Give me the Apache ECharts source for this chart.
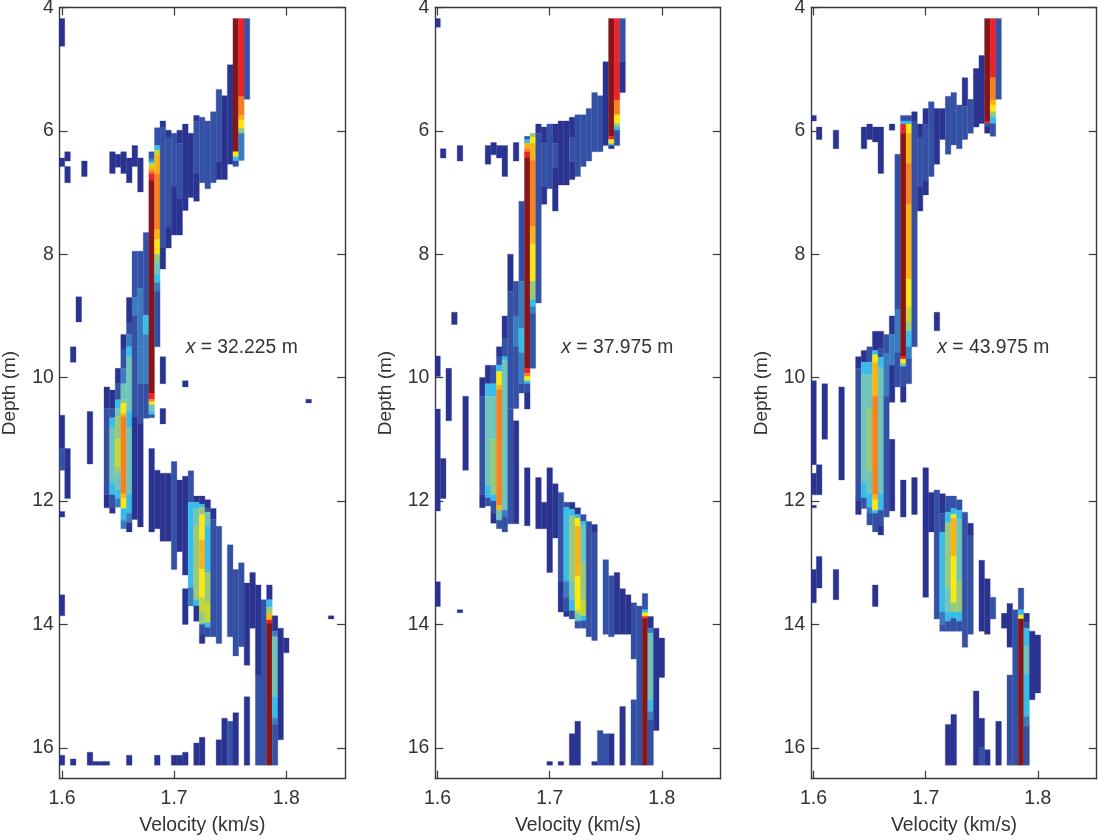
<!DOCTYPE html>
<html><head><meta charset="utf-8">
<style>html,body{margin:0;padding:0;background:#fff}#c{width:1098px;height:840px}</style>
<script src="https://cdn.jsdelivr.net/npm/echarts@6/dist/echarts.min.js"></script>
</head><body><div id="c"></div>
<script>
const xTicks = [1.6, 1.7, 1.8];
const xTickLabels = ['1.6', '1.7', '1.8'];
const depthTicks = [4, 6, 8, 10, 12, 14, 16];
const panelLabels = ['32.225', '37.975', '43.975'];
const levelColors = ['#2b3391','#3451a5','#3a7cbf','#39bcea','#6fc5b9','#98ca7a','#c3d835','#fbe812','#fbb316','#f58120','#ec2227','#85161a'];
const binWidth = 0.005;

// [velocity, depth top, depth bottom, colour level]
const cellsA = [
[1.6,4.18,4.63,0],[1.6,6.44,6.58,0],[1.6,10.61,11.15,0],[1.6,11.15,11.5,1],[1.6,12.17,12.26,0],[1.6,13.52,13.86,0],[1.6,16.12,16.28,0],
[1.605,6.34,6.49,0],[1.605,6.58,6.84,0],[1.605,11.15,11.96,0],
[1.61,9.5,9.75,0],[1.61,16.18,16.28,0],[1.615,8.69,9.1,0],[1.62,6.49,6.74,0],
[1.625,10.55,11.4,0],[1.625,16.07,16.28,0],[1.63,16.22,16.28,0],[1.635,16.22,16.28,0],[1.64,16.22,16.28,0],
[1.64,10.15,10.5,0],[1.64,10.5,11.9,1],[1.64,11.9,12.11,0],
[1.645,6.34,6.69,0],[1.645,10.2,10.5,0],[1.645,10.5,10.65,1],[1.645,10.65,10.8,3],[1.645,10.8,11.7,4],[1.645,11.7,11.9,3],[1.645,11.9,12.11,1],[1.645,12.11,12.2,0],
[1.65,6.38,6.59,0],[1.65,9.85,10.1,0],[1.65,10.1,10.36,1],[1.65,10.36,10.5,3],[1.65,10.5,10.63,4],[1.65,10.63,11.0,5],[1.65,11.0,11.45,6],[1.65,11.45,11.55,5],[1.65,11.55,11.82,4],[1.65,11.82,11.96,3],[1.65,11.96,12.1,2],
[1.655,6.34,6.69,0],[1.655,9.3,9.55,0],[1.655,9.55,9.85,1],[1.655,9.85,10.1,2],[1.655,10.1,10.36,4],[1.655,10.36,10.42,5],[1.655,10.42,10.58,7],[1.655,10.58,10.63,8],[1.655,10.63,11.88,9],[1.655,11.88,11.96,8],[1.655,11.96,12.12,7],[1.655,12.12,12.31,3],[1.655,12.31,12.45,2],
[1.66,6.44,6.84,0],[1.66,8.7,9.1,0],[1.66,9.1,9.3,1],[1.66,9.3,9.5,2],[1.66,9.5,9.66,3],[1.66,9.66,10.55,4],[1.66,10.55,10.8,3],[1.66,10.8,11.88,4],[1.66,11.88,12.2,3],[1.66,12.2,12.35,2],[1.66,12.35,12.5,0],[1.66,16.12,16.28,0],
[1.665,6.24,6.58,0],[1.665,7.95,8.7,1],[1.665,8.7,9.0,2],[1.665,9.0,10.63,1],[1.665,10.63,12.3,0],
[1.67,6.44,6.99,0],[1.67,7.95,8.55,1],[1.67,8.55,8.9,2],[1.67,8.9,9.5,2],[1.67,9.5,10.1,2],[1.67,10.1,10.74,1],[1.67,10.74,12.42,0],
[1.675,7.65,8.99,1],[1.675,8.99,9.3,3],[1.675,9.3,10.1,2],[1.675,10.1,10.66,1],
[1.68,6.34,6.44,1],[1.68,6.44,6.49,2],[1.68,6.49,6.53,3],[1.68,6.53,6.58,6],[1.68,6.58,6.64,8],[1.68,6.64,6.69,9],[1.68,6.69,6.8,10],[1.68,6.8,10.25,11],[1.68,10.25,10.35,10],[1.68,10.35,10.39,9],[1.68,10.39,10.44,7],[1.68,10.44,10.55,4],[1.68,10.55,10.6,3],[1.68,10.6,10.65,1],[1.68,11.15,12.5,0],
[1.685,5.95,6.24,1],[1.685,6.24,6.31,3],[1.685,6.31,6.39,6],[1.685,6.39,6.69,8],[1.685,6.69,7.6,9],[1.685,7.6,7.76,8],[1.685,7.76,8.0,7],[1.685,8.0,8.13,5],[1.685,8.13,8.33,4],[1.685,8.33,8.46,3],[1.685,8.46,8.6,2],[1.685,8.6,9.5,1],[1.685,11.5,12.45,0],[1.685,16.12,16.28,0],
[1.69,5.84,5.95,0],[1.69,5.95,7.9,1],[1.69,7.9,8.24,0],[1.69,9.66,10.1,0],[1.69,10.5,10.75,0],[1.69,11.55,12.65,0],
[1.695,5.99,6.1,0],[1.695,6.1,7.55,1],[1.695,7.55,7.9,0],[1.695,11.55,12.65,0],
[1.7,6.04,6.9,1],[1.7,6.9,7.69,0],[1.7,11.36,13.11,1],[1.7,16.12,16.28,0],
[1.705,5.99,6.2,0],[1.705,6.2,7.1,1],[1.705,7.1,7.69,0],[1.705,11.66,12.82,0],[1.705,16.12,16.28,0],
[1.71,5.89,7.29,0],[1.71,10.05,10.15,0],[1.71,11.6,13.2,0],[1.71,13.42,14.0,0],[1.71,16.07,16.28,0],
[1.715,6.04,7.08,0],[1.715,11.51,12.02,1],[1.715,12.02,12.35,3],[1.715,12.35,13.4,3],[1.715,13.4,13.7,2],
[1.72,5.75,5.85,0],[1.72,5.85,6.7,1],[1.72,6.7,7.14,0],[1.72,11.92,12.02,0],[1.72,12.02,12.12,3],[1.72,12.12,12.4,4],[1.72,12.4,13.45,5],[1.72,13.45,13.6,5],[1.72,13.6,13.7,3],[1.72,13.7,13.95,0],[1.72,15.92,16.28,0],
[1.725,5.78,6.84,1],[1.725,11.92,12.05,0],[1.725,12.05,12.1,3],[1.725,12.1,12.22,5],[1.725,12.22,12.41,7],[1.725,12.41,12.63,7],[1.725,12.63,12.85,8],[1.725,12.85,13.11,8],[1.725,13.11,13.56,7],[1.725,13.56,13.8,6],[1.725,13.8,13.97,5],[1.725,13.97,14.0,4],[1.725,14.0,14.17,1],[1.725,14.17,14.31,0],[1.725,15.83,16.28,0],
[1.73,5.84,6.94,1],[1.73,11.98,12.12,0],[1.73,12.12,12.18,1],[1.73,12.18,12.41,4],[1.73,12.41,13.15,3],[1.73,13.15,13.65,5],[1.73,13.65,13.97,6],[1.73,13.97,14.05,3],[1.73,14.05,14.2,1],
[1.735,5.69,6.84,1],[1.735,12.12,12.3,0],[1.735,12.3,14.2,1],
[1.74,5.33,6.5,1],[1.74,6.5,6.79,0],[1.74,12.41,14.31,1],[1.74,15.87,16.28,0],
[1.745,5.43,6.79,0],[1.745,15.52,16.28,0],
[1.75,4.93,6.54,0],[1.75,12.71,14.2,1],[1.75,15.57,16.28,1],
[1.755,4.18,6.34,11],[1.755,6.34,6.42,7],[1.755,6.42,6.49,3],[1.755,6.49,6.58,1],[1.755,13.11,14.51,1],[1.755,15.43,16.28,0],
[1.76,4.18,5.45,10],[1.76,5.45,5.75,9],[1.76,5.75,5.83,8],[1.76,5.83,5.96,7],[1.76,5.96,6.04,5],[1.76,6.04,6.48,2],[1.76,13.0,14.36,1],
[1.765,4.18,5.49,1],[1.765,13.33,14.66,0],[1.765,15.17,16.28,0],
[1.77,13.16,14.06,0],[1.775,13.36,14.82,0],[1.775,14.82,16.28,1],
[1.78,13.6,16.28,1],
[1.785,13.36,13.6,0],[1.785,13.6,13.72,3],[1.785,13.72,13.82,5],[1.785,13.82,13.93,8],[1.785,13.93,13.98,10],[1.785,13.98,16.28,11],
[1.79,13.86,14.11,0],[1.79,14.11,14.2,2],[1.79,14.2,15.17,4],[1.79,15.17,15.52,3],[1.79,15.52,15.63,2],[1.79,15.63,16.28,1],
[1.795,14.06,15.87,0],[1.8,14.22,14.46,0],[1.82,10.35,10.41,0],[1.84,13.86,13.91,0]
];

const cellsB = [
[1.6,4.18,4.32,0],[1.6,9.65,9.98,0],[1.6,10.51,12.16,0],[1.6,13.31,13.71,0],
[1.605,6.29,6.44,0],[1.605,11.31,11.96,0],[1.61,9.85,10.7,0],[1.615,8.94,9.14,0],[1.62,6.24,6.49,0],[1.62,13.76,13.81,0],
[1.625,10.3,11.5,0],
[1.64,10.0,10.3,0],[1.64,10.3,11.9,1],[1.64,11.9,12.11,0],
[1.645,6.24,6.54,0],[1.645,9.8,10.1,0],[1.645,10.1,10.3,3],[1.645,10.3,11.75,4],[1.645,11.75,11.95,3],[1.645,11.95,12.08,1],
[1.65,6.19,6.39,0],[1.65,9.8,10.1,1],[1.65,10.1,10.3,3],[1.65,10.3,11.0,4],[1.65,11.0,11.9,5],[1.65,11.9,12.0,3],[1.65,12.0,12.2,1],[1.65,12.2,12.36,0],
[1.655,6.24,6.44,0],[1.655,9.5,9.65,0],[1.655,9.65,9.8,1],[1.655,9.8,9.9,3],[1.655,9.9,10.12,7],[1.655,10.12,10.2,8],[1.655,10.2,12.07,9],[1.655,12.07,12.15,8],[1.655,12.15,12.31,4],[1.655,12.31,12.45,1],
[1.66,6.24,6.74,0],[1.66,9.0,9.37,0],[1.66,9.37,9.66,1],[1.66,9.66,9.72,3],[1.66,9.72,12.15,4],[1.66,12.15,12.26,2],[1.66,12.26,12.5,1],
[1.665,8.0,8.6,0],[1.665,8.6,9.0,1],[1.665,9.0,10.5,1],[1.665,10.5,12.37,1],
[1.67,6.19,6.49,0],[1.67,8.44,9.0,1],[1.67,9.0,9.5,2],[1.67,9.5,10.5,1],[1.67,10.7,12.37,0],
[1.675,7.14,8.44,1],[1.675,8.44,9.2,2],[1.675,9.2,9.6,3],[1.675,9.6,10.1,2],[1.675,10.1,10.25,1],
[1.68,6.09,6.14,1],[1.68,6.14,6.2,3],[1.68,6.2,6.29,8],[1.68,6.29,6.34,9],[1.68,6.34,6.44,10],[1.68,6.44,9.85,11],[1.68,9.85,9.93,10],[1.68,9.93,9.98,9],[1.68,9.98,10.05,7],[1.68,10.05,10.1,3],[1.68,10.1,10.25,1],[1.68,10.25,10.51,0],[1.68,11.46,12.4,0],
[1.685,6.04,6.1,5],[1.685,6.1,6.2,7],[1.685,6.2,6.48,8],[1.685,6.48,7.55,9],[1.685,7.55,7.84,8],[1.685,7.84,8.44,7],[1.685,8.44,8.74,5],[1.685,8.74,8.85,3],[1.685,8.85,8.96,2],[1.685,8.96,9.85,1],
[1.69,5.89,6.04,0],[1.69,6.04,8.79,1],[1.69,11.62,12.45,0],
[1.695,5.94,6.2,0],[1.695,6.2,6.9,1],[1.695,6.9,7.19,0],[1.695,12.02,12.45,0],
[1.7,5.89,6.94,1],[1.7,11.46,13.16,0],[1.7,16.22,16.28,0],
[1.705,5.89,6.2,0],[1.705,6.2,6.6,1],[1.705,6.6,7.3,0],[1.705,11.72,12.6,0],
[1.71,5.84,6.88,0],[1.71,11.86,13.3,1],[1.71,13.3,13.8,0],[1.71,16.22,16.28,0],
[1.715,5.84,6.88,0],[1.715,12.02,12.1,1],[1.715,12.1,13.3,3],[1.715,13.3,13.57,2],[1.715,13.57,13.8,1],[1.715,13.8,13.87,0],
[1.72,5.78,6.1,0],[1.72,6.1,6.5,1],[1.72,6.5,6.79,0],[1.72,12.02,12.13,0],[1.72,12.13,12.24,3],[1.72,12.24,13.3,5],[1.72,13.3,13.6,4],[1.72,13.6,13.78,3],[1.72,13.78,13.91,1],[1.72,15.77,16.28,0],
[1.725,5.74,6.74,1],[1.725,12.11,12.22,0],[1.725,12.22,12.28,3],[1.725,12.28,12.41,7],[1.725,12.41,13.22,8],[1.725,13.22,13.76,7],[1.725,13.76,13.82,6],[1.725,13.82,13.95,4],[1.725,13.95,14.06,1],[1.725,15.57,16.28,0],
[1.73,5.74,6.58,1],[1.73,12.22,12.33,1],[1.73,12.33,12.4,3],[1.73,12.4,13.0,4],[1.73,13.0,13.6,5],[1.73,13.6,13.86,6],[1.73,13.86,13.94,3],[1.73,13.94,14.06,1],
[1.735,5.64,6.49,1],[1.735,12.33,14.2,1],
[1.74,5.38,6.34,1],[1.74,12.38,12.5,0],[1.74,12.5,14.26,1],[1.74,16.22,16.28,0],
[1.745,5.43,6.34,1],[1.745,15.72,16.28,1],
[1.75,4.88,6.24,0],[1.75,12.95,14.16,1],[1.75,15.77,16.28,1],
[1.755,4.18,6.09,11],[1.755,6.09,6.14,10],[1.755,6.14,6.21,7],[1.755,6.21,6.24,3],[1.755,6.24,6.29,0],[1.755,13.21,14.2,1],[1.755,15.77,16.28,0],
[1.76,4.18,5.5,10],[1.76,5.5,5.74,9],[1.76,5.74,5.88,7],[1.76,5.88,5.94,5],[1.76,5.94,5.99,3],[1.76,5.99,6.24,1],[1.76,13.16,14.16,0],
[1.765,4.18,4.88,1],[1.765,4.88,5.38,0],[1.765,13.42,14.16,0],[1.765,15.33,16.28,0],
[1.77,13.52,14.16,0],[1.775,13.65,14.56,1],[1.775,15.22,16.28,1],
[1.78,13.7,16.28,1],
[1.785,13.5,13.76,1],[1.785,13.76,13.81,3],[1.785,13.81,13.87,7],[1.785,13.87,13.91,10],[1.785,13.91,16.28,11],
[1.79,13.87,14.06,0],[1.79,14.06,14.14,2],[1.79,14.14,15.22,4],[1.79,15.22,15.41,3],[1.79,15.41,15.55,2],[1.79,15.55,16.28,1],
[1.795,14.06,15.72,0],[1.8,14.22,14.86,0]
];

const cellsC = [
[1.6,5.75,5.84,0],[1.6,10.05,11.41,0],[1.6,11.55,11.9,0],[1.6,12.07,12.11,0],[1.6,13.11,13.65,0],
[1.605,5.94,6.14,0],[1.605,11.41,11.9,0],[1.605,12.9,13.41,0],[1.61,10.1,11.0,0],[1.62,5.99,6.29,0],[1.62,13.11,13.6,0],[1.625,10.15,11.66,0],
[1.64,9.66,9.85,0],[1.64,9.85,11.99,1],[1.64,11.99,12.22,0],
[1.645,5.94,6.29,0],[1.645,9.56,9.75,0],[1.645,9.75,9.95,3],[1.645,9.95,11.7,4],[1.645,11.7,11.95,3],[1.645,11.95,12.12,1],
[1.65,5.89,6.14,0],[1.65,9.5,9.75,1],[1.65,9.75,9.95,3],[1.65,9.95,10.5,4],[1.65,10.5,11.5,5],[1.65,11.5,11.88,4],[1.65,11.88,12.1,3],[1.65,12.1,12.2,2],[1.65,12.2,12.39,1],
[1.655,5.94,6.18,0],[1.655,9.25,9.56,0],[1.655,9.56,9.63,3],[1.655,9.63,9.75,7],[1.655,9.75,10.3,8],[1.655,10.3,11.9,9],[1.655,11.9,11.98,8],[1.655,11.98,12.15,7],[1.655,12.15,12.2,3],[1.655,12.2,12.5,1],[1.655,13.36,13.71,0],
[1.66,5.94,6.69,0],[1.66,9.25,9.53,0],[1.66,9.53,9.67,1],[1.66,9.67,9.84,3],[1.66,9.84,11.88,4],[1.66,11.88,12.15,3],[1.66,12.15,12.4,1],[1.66,12.4,12.55,0],
[1.665,9.3,9.6,1],[1.665,9.6,10.3,2],[1.665,10.3,12.26,1],
[1.67,5.89,5.99,0],[1.67,9.0,9.3,0],[1.67,9.3,9.8,2],[1.67,9.8,10.4,0],[1.67,11.0,12.16,0],
[1.675,6.38,8.9,1],[1.675,8.9,9.6,2],[1.675,9.6,10.15,1],
[1.68,5.75,5.84,1],[1.68,5.84,5.89,3],[1.68,5.89,6.04,10],[1.68,6.04,9.66,11],[1.68,9.66,9.7,10],[1.68,9.7,9.77,7],[1.68,9.77,9.82,4],[1.68,9.82,10.15,1],[1.68,10.15,10.4,0],[1.68,11.66,12.26,0],
[1.685,5.75,5.84,1],[1.685,5.84,5.89,3],[1.685,5.89,6.04,7],[1.685,6.04,6.53,8],[1.685,6.53,7.2,9],[1.685,7.2,8.4,8],[1.685,8.4,8.85,7],[1.685,8.85,9.1,6],[1.685,9.1,9.24,5],[1.685,9.24,9.5,3],[1.685,9.5,9.7,2],[1.685,9.7,10.1,1],
[1.69,5.69,5.84,0],[1.69,5.84,9.5,1],[1.69,11.62,12.22,0],
[1.695,5.89,6.1,0],[1.695,6.1,6.9,1],[1.695,6.9,7.3,0],
[1.7,5.64,5.9,0],[1.7,5.9,6.8,1],[1.7,6.8,7.04,0],[1.7,11.46,13.56,0],
[1.705,5.53,6.74,1],[1.705,11.86,12.5,0],
[1.71,5.64,6.54,0],[1.71,8.94,9.24,0],[1.71,11.82,13.91,1],
[1.715,5.64,6.14,0],[1.715,11.88,12.2,0],[1.715,12.2,12.5,1],[1.715,12.5,13.8,3],[1.715,13.8,14.0,2],[1.715,14.0,14.11,1],
[1.72,5.44,6.38,1],[1.72,11.92,12.18,1],[1.72,12.18,12.35,3],[1.72,12.35,13.4,5],[1.72,13.4,13.8,4],[1.72,13.8,13.95,3],[1.72,13.95,14.11,1],[1.72,15.62,16.28,0],
[1.725,5.38,6.23,1],[1.725,11.92,12.12,1],[1.725,12.12,12.22,3],[1.725,12.22,12.28,7],[1.725,12.28,12.9,8],[1.725,12.9,13.65,7],[1.725,13.65,13.8,5],[1.725,13.8,13.9,3],[1.725,13.9,14.11,1],[1.725,15.46,16.28,0],
[1.73,5.58,6.29,1],[1.73,11.98,12.15,1],[1.73,12.15,12.3,3],[1.73,12.3,13.3,4],[1.73,13.3,13.8,5],[1.73,13.8,13.95,3],[1.73,13.95,14.11,1],
[1.735,5.14,5.6,0],[1.735,5.6,6.14,1],[1.735,12.18,14.37,1],
[1.74,5.49,6.04,1],[1.74,12.36,12.55,0],[1.74,12.55,14.16,1],
[1.745,4.99,5.94,0],[1.745,15.08,16.28,0],
[1.75,4.78,5.88,0],[1.75,12.96,14.11,0],[1.75,15.52,16.0,0],[1.75,16.0,16.28,1],
[1.755,4.18,5.84,11],[1.755,5.84,5.88,10],[1.755,5.88,5.94,1],[1.755,5.94,6.04,0],[1.755,13.26,14.16,0],[1.755,16.03,16.28,0],
[1.76,4.18,5.14,10],[1.76,5.14,5.5,9],[1.76,5.5,5.58,8],[1.76,5.58,5.69,7],[1.76,5.69,5.77,5],[1.76,5.77,5.88,3],[1.76,5.88,6.09,1],[1.76,13.56,13.91,1],
[1.765,4.18,5.49,1],[1.765,15.57,16.28,0],
[1.77,13.82,14.06,0],[1.775,13.66,14.37,0],[1.775,14.82,16.28,1],
[1.78,13.76,16.28,1],
[1.785,13.41,13.76,1],[1.785,13.76,13.85,3],[1.785,13.85,13.91,7],[1.785,13.91,16.28,11],
[1.79,13.82,13.97,0],[1.79,13.97,14.06,1],[1.79,14.06,14.35,3],[1.79,14.35,14.79,4],[1.79,14.79,15.49,3],[1.79,15.49,15.65,2],[1.79,15.65,16.28,1],
[1.795,14.11,15.22,0],[1.8,14.17,15.11,0]
];

const panelCells = [cellsA, cellsB, cellsC];
const gridLefts = [59.7, 435.3, 811.3];
const gridWidth = 285.4;
const gridTop = 7.4, gridHeight = 771.3;
const axisColor = '#3a3a3a', textColor = '#333333', fontFamily = '"Liberation Sans", Arial, sans-serif';

const grid = [], xAxis = [], yAxis = [], series = [], title = [];
panelCells.forEach((cells, i) => {
  grid.push({left: gridLefts[i], top: gridTop, width: gridWidth, height: gridHeight, containLabel: false, outerBoundsMode: 'none'});
  const commonX = {type: 'value', gridIndex: i, min: 1.598, max: 1.8525, splitLine: {show: false},
    axisLine: {show: true, onZero: false, lineStyle: {color: axisColor, width: 1.4}},
    axisTick: {show: true, inside: true, length: 8, lineStyle: {color: axisColor, width: 1.2}, customValues: xTicks}};
  xAxis.push(Object.assign({}, commonX, {position: 'bottom', name: 'Velocity (km/s)', nameLocation: 'middle', nameGap: 37,
    nameTextStyle: {color: textColor, fontSize: 19.4, fontFamily},
    axisLabel: {show: true, color: textColor, fontSize: 19.4, fontFamily, margin: 10, customValues: xTicks,
      formatter: v => xTickLabels[xTicks.indexOf(+(+v).toFixed(1))]}}));
  xAxis.push(Object.assign({}, commonX, {position: 'top', axisLabel: {show: false}}));
  const commonY = {type: 'value', gridIndex: i, inverse: true, min: 4, max: 16.5, interval: 2, splitLine: {show: false},
    axisLine: {show: true, onZero: false, lineStyle: {color: axisColor, width: 1.4}},
    axisTick: {show: true, inside: true, length: 8, lineStyle: {color: axisColor, width: 1.2}, customValues: depthTicks}};
  yAxis.push(Object.assign({}, commonY, {position: 'left', name: 'Depth (m)', nameLocation: 'middle', nameGap: 40,
    nameTextStyle: {color: textColor, fontSize: 19, fontFamily},
    axisLabel: {show: true, color: textColor, fontSize: 19.4, fontFamily, margin: 6, customValues: depthTicks}}));
  yAxis.push(Object.assign({}, commonY, {position: 'right', axisLabel: {show: false}}));
  series.push({type: 'custom', xAxisIndex: i * 2, yAxisIndex: i * 2, clip: true, silent: true, animation: false,
    encode: {x: 0, y: [1, 2]}, data: cells,
    renderItem: (params, api) => {
      const a = api.coord([api.value(0) - binWidth / 2, api.value(1)]);
      const b = api.coord([api.value(0) + binWidth / 2, api.value(2)]);
      const c = levelColors[api.value(3)];
      return {type: 'rect', shape: {x: a[0], y: a[1], width: b[0] - a[0], height: b[1] - a[1]},
        style: {fill: c, stroke: c, lineWidth: 0.3}};
    }});
  title.push({left: gridLefts[i] + 126, top: 338, padding: 0,
    text: '{i|x} = ' + panelLabels[i] + ' m',
    textStyle: {color: textColor, fontSize: 19.3, fontWeight: 'normal', fontFamily,
      rich: {i: {fontStyle: 'italic', fontSize: 19.3, color: textColor, fontFamily}}}});
});

const chart = echarts.init(document.getElementById('c'), null, {renderer: 'canvas'});
chart.setOption({backgroundColor: '#fff', animation: false, grid, xAxis, yAxis, series, title});
</script></body></html>
